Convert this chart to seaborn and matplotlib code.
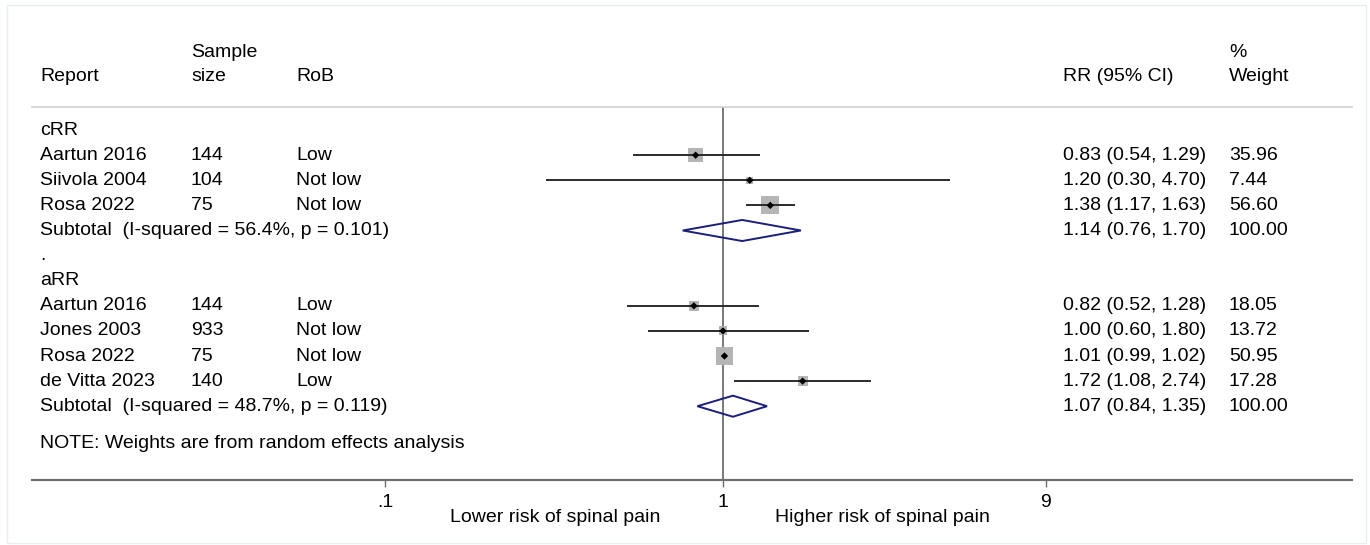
import numpy as np
import pandas as pd
import matplotlib
matplotlib.use('Agg')
import matplotlib.pyplot as plt
import seaborn as sns
from matplotlib.ticker import FixedLocator, FixedFormatter, NullLocator

sns.set_theme(style='white')
plt.rcParams['font.family'] = ['Liberation Sans', 'DejaVu Sans']
plt.rcParams['text.color'] = 'black'

# study rows
report = ['Aartun 2016', 'Siivola 2004', 'Rosa 2022',
          'Aartun 2016', 'Jones 2003', 'Rosa 2022', 'de Vitta 2023']
sample = ['144', '104', '75', '144', '933', '75', '140']
rob = ['Low', 'Not low', 'Not low', 'Low', 'Not low', 'Not low', 'Low']
rr = [0.83, 1.20, 1.38, 0.82, 1.00, 1.01, 1.72]
lo = [0.54, 0.30, 1.17, 0.52, 0.60, 0.99, 1.08]
hi = [1.29, 4.70, 1.63, 1.28, 1.80, 1.02, 2.74]
weight = [35.96, 7.44, 56.60, 18.05, 13.72, 50.95, 17.28]
row = [1, 2, 3, 7, 8, 9, 10]

# subtotals
sub_label = ['Subtotal  (I-squared = 56.4%, p = 0.101)',
             'Subtotal  (I-squared = 48.7%, p = 0.119)']
sub_rr = [1.14, 1.07]
sub_lo = [0.76, 0.84]
sub_hi = [1.70, 1.35]
sub_row = [4, 11]

groups = ['cRR', 'aRR']
group_row = [0, 6]

df = pd.DataFrame({'report': report, 'rr': rr, 'lo': lo, 'hi': hi,
                   'weight': weight, 'row': row})

fig = plt.figure(figsize=(13.7, 5.45), dpi=100)
W, H = 1370, 545
ax = fig.add_axes([32 / W, (H - 480) / H, (1352 - 32) / W, (480 - 107) / H])
ax.set_xscale('log')
ax.set_xlim(0.00903, 72.6)
ax.set_ylim(13.94, -0.92)

# null line
ax.axvline(1, color='#6e6e6e', lw=1.3, zorder=1)

# weight boxes (area ~ weight)
k = 3.0
sns.scatterplot(data=df, x='rr', y='row', size='weight', sizes=(k * 7.44, k * 56.60),
                size_norm=(7.44, 56.60), marker='s', color='#b5b5b5', edgecolor='none',
                linewidth=0, legend=False, ax=ax, zorder=2)
# CIs
ax.hlines(df['row'], df['lo'], df['hi'], color='#2b2b2b', lw=1.4, zorder=3)
sns.scatterplot(data=df, x='rr', y='row', marker='D', color='black', s=14,
                edgecolor='none', legend=False, ax=ax, zorder=4)

# pooled diamonds
for r, e, l, h in zip(sub_row, sub_rr, sub_lo, sub_hi):
    ax.fill([l, e, h, e, l], [r, r - 0.42, r, r + 0.42, r], facecolor='none',
            edgecolor='#1b1f78', lw=1.4, zorder=4)

fs = 14

ax.set_xlabel('')
ax.set_ylabel('')
ax.yaxis.set_major_locator(NullLocator())
ax.xaxis.set_major_locator(FixedLocator([0.1, 1, 9]))
ax.xaxis.set_major_formatter(FixedFormatter(['.1', '1', '9']))
ax.xaxis.set_minor_locator(NullLocator())
ax.tick_params(axis='x', bottom=True, length=5, width=1, color='#6e6e6e',
               labelsize=fs, pad=5, labelcolor='black')
for s in ['left', 'right']:
    ax.spines[s].set_visible(False)
ax.spines['top'].set_color('#cfcfcf')
ax.spines['top'].set_linewidth(1.2)
ax.spines['bottom'].set_color('#6e6e6e')
ax.spines['bottom'].set_linewidth(1.6)

tr = ax.get_yaxis_transform()


def px(x):
    return (x - 32) / (1352 - 32)


def put(x, y, s, **kw):
    ax.text(px(x), y, s, transform=tr, fontsize=fs, va='center', ha='left',
            clip_on=False, **kw)


# header
put(40, -2.15, 'Report')
put(191, -3.1, 'Sample')
put(191, -2.15, 'size')
put(296, -2.15, 'RoB')
put(1063, -2.15, 'RR (95% CI)')
put(1229, -3.1, '%')
put(1229, -2.15, 'Weight')

for g, r in zip(groups, group_row):
    put(40, r, g)
put(40, 5, '.')

for i in range(len(report)):
    put(40, row[i], report[i])
    put(191, row[i], sample[i])
    put(296, row[i], rob[i])
    put(1063, row[i], f'{rr[i]:.2f} ({lo[i]:.2f}, {hi[i]:.2f})')
    put(1229, row[i], f'{weight[i]:.2f}')

for i in range(len(sub_row)):
    put(40, sub_row[i], sub_label[i])
    put(1063, sub_row[i], f'{sub_rr[i]:.2f} ({sub_lo[i]:.2f}, {sub_hi[i]:.2f})')
    put(1229, sub_row[i], '100.00')

put(40, 12.5, 'NOTE: Weights are from random effects analysis')

# direction labels
fig.text(555 / W, 1 - 518 / H, 'Lower risk of spinal pain', ha='center', va='center', fontsize=fs)
fig.text(882 / W, 1 - 518 / H, 'Higher risk of spinal pain', ha='center', va='center', fontsize=fs)

# faint outer frame
fig.patches.append(plt.Rectangle((7 / W, 2 / H), (1366 - 7) / W, (538) / H,
                                 transform=fig.transFigure, fill=False,
                                 edgecolor='#e8eef0', lw=1))

fig.savefig('out.png', dpi=100)
